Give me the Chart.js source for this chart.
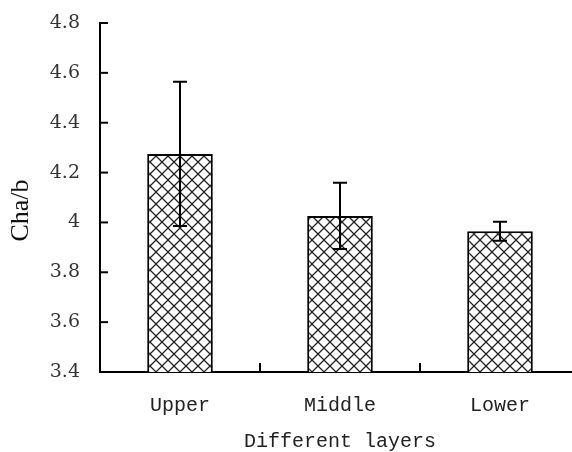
<!DOCTYPE html>
<html>
<head>
<meta charset="utf-8">
<script src="https://cdn.jsdelivr.net/npm/chart.js@4.4.1/dist/chart.umd.min.js"></script>
<style>
  html, body { margin: 0; padding: 0; background: #fff; overflow: hidden; }
  #wrap { width: 600px; height: 452px; }
</style>
</head>
<body>
<div id="wrap"><canvas id="myChart"></canvas></div>
<script>
// data
var layers = ['Upper', 'Middle', 'Lower'];
var chab = [4.275, 4.026, 3.965];
var chabErr = [0.289, 0.133, 0.038];

// cross hatch fill like the original
function hatch() {
  var c = document.createElement('canvas');
  c.width = 12; c.height = 12;
  var g = c.getContext('2d');
  g.fillStyle = '#fff';
  g.fillRect(0, 0, 12, 12);
  g.strokeStyle = '#222';
  g.lineWidth = 1.3;
  g.beginPath();
  g.moveTo(-1, -1); g.lineTo(13, 13);
  g.moveTo(13, -1); g.lineTo(-1, 13);
  g.stroke();
  return g.createPattern(c, 'repeat');
}

// inward ticks + error bars
var extras = {
  id: 'extras',
  afterDatasetsDraw: function(chart) {
    var ctx = chart.ctx;
    var y = chart.scales.y, x = chart.scales.x;
    ctx.save();
    ctx.strokeStyle = '#000';
    ctx.lineWidth = 2;
    chart.getDatasetMeta(0).data.forEach(function(bar, i) {
      var top = y.getPixelForValue(chab[i] + chabErr[i]);
      var bot = y.getPixelForValue(chab[i] - chabErr[i]);
      ctx.beginPath();
      ctx.moveTo(bar.x, top); ctx.lineTo(bar.x, bot);
      ctx.moveTo(bar.x - 7, top); ctx.lineTo(bar.x + 7, top);
      ctx.moveTo(bar.x - 7, bot); ctx.lineTo(bar.x + 7, bot);
      ctx.stroke();
    });
    y.ticks.forEach(function(t) {
      var py = y.getPixelForValue(t.value);
      ctx.beginPath();
      ctx.moveTo(y.right, py); ctx.lineTo(y.right + 8, py);
      ctx.stroke();
    });
    for (var k = 0; k < layers.length; k++) {
      var px = x.getPixelForValue(k + 0.5);
      ctx.beginPath();
      ctx.moveTo(px, x.top); ctx.lineTo(px, x.top - 9);
      ctx.stroke();
    }
    ctx.restore();
  }
};

var ctx = document.getElementById('myChart').getContext('2d');
var myChart = new Chart(ctx, {
  type: 'bar',
  data: {
    labels: layers,
    datasets: [{
      label: 'Cha/b',
      data: chab,
      backgroundColor: hatch(),
      borderColor: '#000',
      borderWidth: 2,
      barPercentage: 0.41,
      categoryPercentage: 1
    }]
  },
  options: {
    responsive: true,
    maintainAspectRatio: false,
    animation: false,
    layout: { padding: { top: 23, right: 20, left: 0, bottom: 0 } },
    plugins: { legend: { display: false }, tooltip: { enabled: false } },
    scales: {
      x: {
        afterFit: function(s) { s.height = 80; s.paddingLeft = 0; s.paddingRight = 0; },
        grid: { display: false },
        border: { color: '#000', width: 2 },
        ticks: { color: '#222', padding: 14, font: { family: 'Liberation Mono', size: 20 } },
        title: {
          display: true, text: 'Different layers', color: '#222',
          padding: 0, font: { family: 'Liberation Mono', size: 20, lineHeight: 1 }
        }
      },
      y: {
        min: 3.4, max: 4.8,
        afterFit: function(s) { s.width = 100; s.paddingTop = 0; s.paddingBottom = 0; },
        grid: { display: false },
        border: { color: '#000', width: 2 },
        ticks: {
          stepSize: 0.2, color: '#333', padding: 12,
          font: { family: 'DejaVu Serif', size: 19 },
          callback: function(v) { return String(Math.round(v * 10) / 10); }
        },
        title: {
          display: true, text: 'Cha/b    ', color: '#111',
          padding: { top: 6, bottom: 0 }, font: { family: 'Liberation Serif', size: 26 }
        }
      }
    }
  },
  plugins: [extras]
});
</script>
</body>
</html>
